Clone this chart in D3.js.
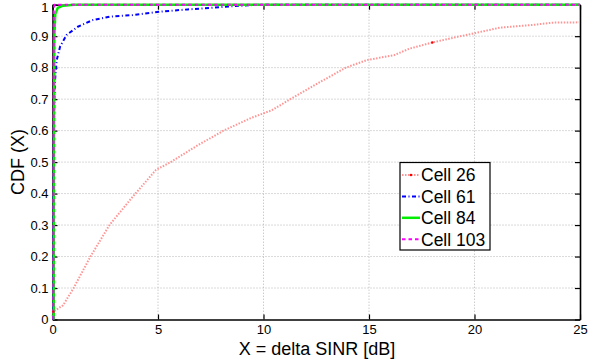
<!DOCTYPE html>
<html>
<head>
<meta charset="utf-8">
<script src="https://cdn.jsdelivr.net/npm/d3@7"></script>
<style>
  html, body { margin: 0; padding: 0; background: #fff; }
  svg { display: block; font-family: "Liberation Sans", Arial, sans-serif; }
</style>
</head>
<body>
<svg id="chart" width="612" height="362"></svg>
<script>
// ---- data ----
const xTicks = [0, 5, 10, 15, 20, 25];
const yTicks = [0, 0.1, 0.2, 0.3, 0.4, 0.5, 0.6, 0.7, 0.8, 0.9, 1];
const yTickLabels = ["0", "0.1", "0.2", "0.3", "0.4", "0.5", "0.6", "0.7", "0.8", "0.9", "1"];
const seriesNames = ["Cell 26", "Cell 61", "Cell 84", "Cell 103"];

const cell26X = [0, 0.04, 0.5, 1.0, 1.8, 2.7, 3.8, 4.9, 5.6, 6.8, 8.1, 9.4, 10.4, 11.4, 12.7, 13.9, 14.9, 16.2, 16.9, 18.0, 19.2, 19.9, 21.2, 22.8, 23.7, 25];
const cell26Y = [0.01, 0.025, 0.045, 0.10, 0.20, 0.30, 0.39, 0.475, 0.50, 0.55, 0.60, 0.64, 0.665, 0.705, 0.755, 0.80, 0.824, 0.84, 0.86, 0.88, 0.898, 0.908, 0.927, 0.936, 0.943, 0.944];
const cell26MarkerIdx = [1, 19];

const cell61X = [0.03, 0.04, 0.06, 0.09, 0.12, 0.2, 0.36, 0.67, 1.2, 1.9, 2.7, 3.8, 5.1, 6.4, 7.5, 8.5, 9.8, 25];
const cell61Y = [0, 0.3, 0.6, 0.7, 0.76, 0.824, 0.867, 0.904, 0.93, 0.951, 0.962, 0.967, 0.978, 0.985, 0.99, 0.995, 1.0, 1.0];

const cell84X = [0.06, 0.07, 0.09, 0.13, 0.25, 0.5, 1.0, 25];
const cell84Y = [0, 0.5, 0.9, 0.97, 0.99, 0.997, 1.0, 1.0];

const cell103X = [0.04, 0.05, 0.06, 0.1, 25];
const cell103Y = [0, 0.5, 0.99, 1.0, 1.0];

// ---- layout ----
const svg = d3.select("#chart");
const L = 52.5, R = 580, T = 4.7, B = 319.5;
const x = d3.scaleLinear().domain([0, 25]).range([L, R]);
const y = d3.scaleLinear().domain([0, 1]).range([B, T]);

// grid
const grid = svg.append("g");
grid.selectAll("line.vx").data(xTicks.slice(1, -1)).enter().append("line")
  .attr("x1", d => x(d)).attr("x2", d => x(d)).attr("y1", T).attr("y2", B)
  .attr("stroke", "#b4b4b4").attr("stroke-width", 1).attr("stroke-dasharray", "1,2");
grid.selectAll("line.hy").data(yTicks.slice(1, -1)).enter().append("line")
  .attr("x1", L).attr("x2", R).attr("y1", d => y(d)).attr("y2", d => y(d))
  .attr("stroke", "#b4b4b4").attr("stroke-width", 1).attr("stroke-dasharray", "1,2");

// axes (inward ticks on all four sides)
const fs = 13;
const axB = svg.append("g").attr("transform", `translate(0,${B})`)
  .call(d3.axisBottom(x).tickValues(xTicks).tickSizeInner(-5).tickSizeOuter(0).tickPadding(5));
const axT = svg.append("g").attr("transform", `translate(0,${T})`)
  .call(d3.axisTop(x).tickValues(xTicks).tickSizeInner(-5).tickSizeOuter(0).tickFormat(""));
const axL = svg.append("g").attr("transform", `translate(${L},0)`)
  .call(d3.axisLeft(y).tickValues(yTicks).tickSizeInner(-5).tickSizeOuter(0).tickPadding(4)
    .tickFormat((d, i) => yTickLabels[i]));
const axR = svg.append("g").attr("transform", `translate(${R},0)`)
  .call(d3.axisRight(y).tickValues(yTicks).tickSizeInner(-5).tickSizeOuter(0).tickFormat(""));
[axB, axT, axL, axR].forEach(a => {
  a.select(".domain").attr("stroke", "#000").attr("stroke-width", 1.6);
  a.selectAll(".tick line").attr("stroke", "#000").attr("stroke-width", 1.2);
  a.selectAll(".tick text").attr("fill", "#000").style("font-size", fs + "px")
    .style("font-family", "Liberation Sans, Arial, sans-serif");
});
axB.selectAll(".tick text").attr("dy", "0.71em");
axL.selectAll(".tick text").filter(d => d === 1).attr("dy", "0.5em");

// lines
const line = d3.line().x(d => x(d[0])).y(d => y(d[1]));
const zip = (a, b) => a.map((v, i) => [v, b[i]]);
const styles = [
  { color: "#ff9494", width: 2, dash: "1.5,1.5" },
  { color: "#0000ff", width: 2, dash: "4,2.5,1,2.5" },
  { color: "#00ee00", width: 2.5, dash: null },
  { color: "#ff00ff", width: 2, dash: "3.5,3" }
];
const data = [zip(cell26X, cell26Y), zip(cell61X, cell61Y), zip(cell84X, cell84Y), zip(cell103X, cell103Y)];
const lines = svg.append("g");
data.forEach((d, i) => {
  lines.append("path").datum(d).attr("d", line).attr("fill", "none")
    .attr("stroke", styles[i].color).attr("stroke-width", styles[i].width)
    .attr("stroke-dasharray", styles[i].dash);
});
lines.selectAll("circle.m").data(cell26MarkerIdx).enter().append("circle")
  .attr("cx", i => x(cell26X[i])).attr("cy", i => y(cell26Y[i])).attr("r", 1.2).attr("fill", "#ff0000");

// axis labels
svg.append("text").attr("x", 317).attr("y", 355).attr("text-anchor", "middle")
  .style("font-size", "18px").text("X = delta SINR [dB]");
svg.append("text").attr("transform", `translate(24,162) rotate(-90)`).attr("text-anchor", "middle")
  .style("font-size", "18px").text("CDF (X)");

// legend
const lg = svg.append("g");
lg.append("rect").attr("x", 400).attr("y", 162.5).attr("width", 90).attr("height", 87.5)
  .attr("fill", "#fff").attr("stroke", "#000").attr("stroke-width", 1.2);
seriesNames.forEach((name, i) => {
  const cy = 175 + i * 21.4;
  lg.append("line").attr("x1", 402).attr("x2", 420).attr("y1", cy).attr("y2", cy)
    .attr("stroke", styles[i].color).attr("stroke-width", styles[i].width)
    .attr("stroke-dasharray", styles[i].dash);
  if (i === 0) lg.append("circle").attr("cx", 411).attr("cy", cy).attr("r", 1.3).attr("fill", "#ff0000");
  lg.append("text").attr("x", 421).attr("y", cy).attr("dy", "0.36em")
    .style("font-size", "17.5px").text(name);
});
</script>
</body>
</html>
